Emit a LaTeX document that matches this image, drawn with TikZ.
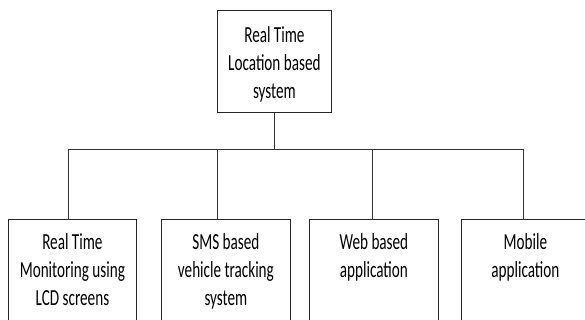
\documentclass[tikz,border=0pt]{standalone}
\usepackage{fontspec}
\setmainfont[FakeStretch=0.66]{Carlito}
\tikzset{
  blk/.style={draw=black!85, line width=0.8pt, inner sep=0pt, anchor=north west},
  wire/.style={draw=black!80, line width=0.8pt}
}
% #1 box height, #2 box width, #3 drop to the first baseline, #4 text
\newcommand{\boxtext}[4]{\parbox[t][#1][t]{#2}{\centering\fontsize{23pt}{28pt}\selectfont\rule{0pt}{#3}#4}}
\begin{document}
\begin{tikzpicture}[x=1pt, y=-1pt]
  \useasboundingbox (0,0) rectangle (585,320);
  \fill[white] (0,0) rectangle (585,320);
  \clip (0,0) rectangle (585,320);

  \node[blk] (root) at (217,10) {\boxtext{102pt}{114pt}{32pt}{Real Time\\Location based\\system}};

  \node[blk] (b1) at (8,219)   {\boxtext{125pt}{128pt}{30pt}{Real Time\\Monitoring using\\LCD screens}};
  \node[blk] (b2) at (161,219) {\boxtext{125pt}{129pt}{30pt}{SMS based\\vehicle tracking\\system}};
  \node[blk] (b3) at (309,219) {\boxtext{125pt}{129pt}{30pt}{Web based\\application}};
  \node[blk] (b4) at (461,219) {\boxtext{125pt}{128pt}{30pt}{Mobile\\application}};

  \coordinate (j1) at (68,149);
  \coordinate (j2) at (217,149);
  \coordinate (j3) at (372,149);
  \coordinate (j4) at (523,149);

  \draw[wire] (root.south) -- (root.south |- j1);
  \draw[wire] (j1) -- (j4);
  \draw[wire] (j1) -- (j1 |- b1.north);
  \draw[wire] (j2) -- (j2 |- b2.north);
  \draw[wire] (j3) -- (j3 |- b3.north);
  \draw[wire] (j4) -- (j4 |- b4.north);
\end{tikzpicture}
\end{document}
